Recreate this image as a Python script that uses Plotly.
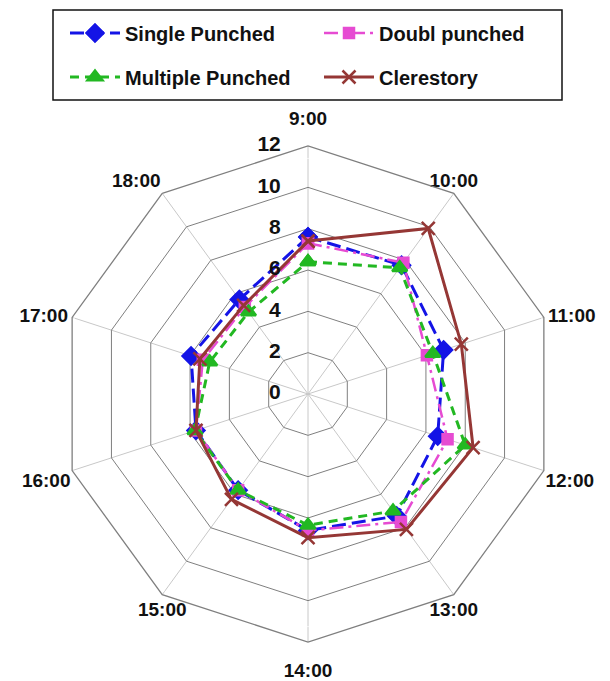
import plotly.graph_objects as go

# Hours of the day around the radar
hours = ["9:00", "10:00", "11:00", "12:00", "13:00",
         "14:00", "15:00", "16:00", "17:00", "18:00"]

# Values per window configuration
single_punched = [7.6, 7.7, 6.9, 6.6, 7.3, 6.6, 5.75, 5.7, 5.95, 5.65]
doubl_punched = [7.3, 7.85, 6.05, 7.1, 7.65, 6.6, 5.75, 5.7, 5.35, 5.2]
multiple_punched = [6.4, 7.55, 6.35, 8.0, 7.0, 6.35, 5.75, 5.75, 5.0, 4.9]
clerestory = [7.4, 9.9, 7.8, 8.4, 8.1, 6.95, 6.3, 5.7, 5.5, 5.3]

radial_ticks = [0, 2, 4, 6, 8, 10, 12]
radial_max = 12

# Placement of each hour label relative to its outer vertex
hour_label_pos = ["top center", "top center", "middle right", "bottom right",
                  "bottom center", "bottom center", "bottom center",
                  "bottom left", "middle left", "top left"]
hour_label_gap = [25, 1, 5, 1, 9, 31, 9, 1, 5, 1]

W, H = 610, 681
FONT = "Liberation Sans, Arial, sans-serif"
INK = "#111111"


def closed(vals):
    return list(vals) + [vals[0]]


theta = closed(hours)

series = [
    dict(name="Single Punched", r=single_punched, color="#1414e6",
         dash="14px,6px", width=3, symbol="diamond", size=13, legend="legend"),
    dict(name="Doubl punched", r=doubl_punched, color="#e64bd2",
         dash="14px,5px,3px,5px", width=2.5, symbol="square", size=10, legend="legend"),
    dict(name="Multiple Punched", r=multiple_punched, color="#22b822",
         dash="9px,6px", width=3, symbol="triangle-up", size=13, legend="legend2"),
    dict(name="Clerestory", r=clerestory, color="#953735",
         dash="solid", width=3, symbol="x-thin-open", size=13, legend="legend2"),
]

fig = go.Figure()
for s in series:
    fig.add_trace(go.Scatterpolar(
        r=closed(s["r"]), theta=theta, name=s["name"],
        mode="lines+markers",
        line=dict(color=s["color"], width=s["width"], dash=s["dash"]),
        marker=dict(symbol=s["symbol"], size=s["size"], color=s["color"],
                    line=dict(color=s["color"], width=2.5)),
        legend=s["legend"],
    ))

# Hour labels at the outer vertices
fig.add_trace(go.Scatterpolar(
    r=[radial_max] * len(hours), theta=hours, mode="markers+text", text=hours,
    textposition=hour_label_pos,
    marker=dict(size=hour_label_gap, color="rgba(0,0,0,0)"),
    textfont=dict(family=FONT, size=19, color=INK, weight="bold"),
    cliponaxis=False, showlegend=False, hoverinfo="skip",
))

# Radial scale labels beside the 9:00 spoke (the centre one nudged off r=0
# so the point is kept)
fig.add_trace(go.Scatterpolar(
    r=[max(t, 0.02) for t in radial_ticks], theta=[hours[0]] * len(radial_ticks),
    mode="markers+text",
    text=[str(t) for t in radial_ticks], textposition="middle left",
    marker=dict(size=42, color="rgba(0,0,0,0)"),
    textfont=dict(family=FONT, size=21, color=INK, weight="bold"),
    cliponaxis=False, showlegend=False, hoverinfo="skip",
))

cx0, cx1 = 60 / W, 556 / W
cy0, cy1 = 1 - 642 / H, 1 - 146 / H

legend_font = dict(family=FONT, size=20, color=INK, weight="bold")
legend_common = dict(orientation="h", xanchor="left", yanchor="middle",
                     font=legend_font, bgcolor="rgba(0,0,0,0)",
                     itemwidth=50,
                     entrywidth=189, entrywidthmode="pixels",
                     itemclick=False, itemdoubleclick=False)

fig.update_layout(
    width=W, height=H,
    margin=dict(l=0, r=0, t=0, b=0),
    paper_bgcolor="white",
    font=dict(family=FONT, color=INK),
    polar=dict(
        domain=dict(x=[cx0, cx1], y=[cy0, cy1]),
        gridshape="linear",
        bgcolor="white",
        angularaxis=dict(
            direction="clockwise", rotation=90,
            categoryorder="array", categoryarray=hours,
            showline=True, linecolor="#7f7f7f", linewidth=1.3,
            gridcolor="#c8c8c8", gridwidth=1,
            ticks="", showticklabels=False,
        ),
        radialaxis=dict(
            range=[0, radial_max], tickvals=radial_ticks, angle=90,
            showline=False, ticks="", showticklabels=False,
            gridcolor="#7f7f7f", gridwidth=1.3,
        ),
    ),
    legend=dict(x=65 / W, y=1 - 33 / H, **legend_common),
    legend2=dict(x=65 / W, y=1 - 77 / H, **legend_common),
    shapes=[dict(type="rect", xref="paper", yref="paper",
                 x0=53 / W, x1=562 / W, y0=1 - 100 / H, y1=1 - 10 / H,
                 line=dict(color=INK, width=1.5),
                 fillcolor="rgba(0,0,0,0)")],
)

fig.write_html("out.html")
